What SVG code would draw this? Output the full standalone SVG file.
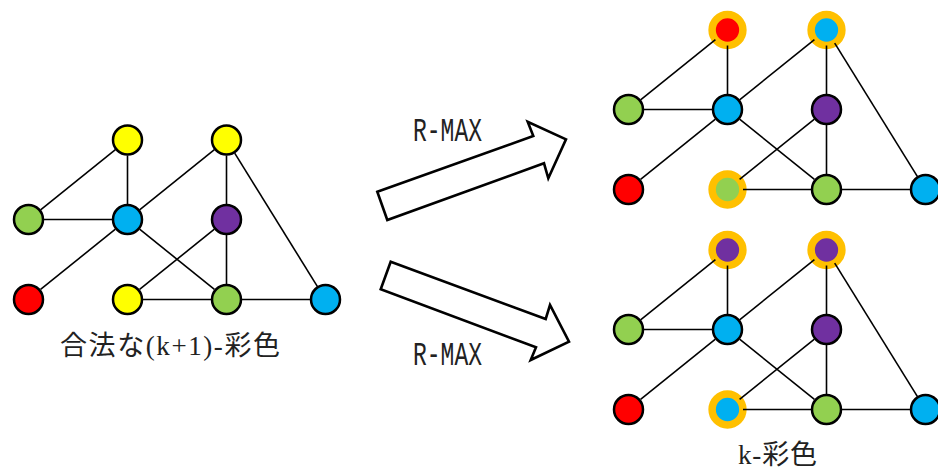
<svg xmlns="http://www.w3.org/2000/svg" width="938" height="469" viewBox="0 0 938 469">
<style>
.e{stroke:#000;stroke-width:1.6;fill:none}
.n{stroke:#000;stroke-width:2.5}
.h{stroke:#FFC000;stroke-width:7.5}
.y{fill:#FFFF00}.g{fill:#92D050}.b{fill:#00B0F0}.p{fill:#7030A0}.r{fill:#FF0000}
.arrow{fill:#fff;stroke:#000;stroke-width:2.6;stroke-linejoin:miter}
.lbl{font-family:"Liberation Serif","Noto Sans CJK JP",serif;font-size:27px;fill:#222}
.rm{font-family:"Liberation Mono",monospace;font-size:33px;fill:#222}
</style>
<rect width="938" height="469" fill="#fff"/>
<g id="arrows">
<polygon class="arrow" points="377.3,191.7 533.3,136 527.7,121.7 566,139.3 548.3,178.3 544,163.3 387.3,220"/>
<polygon class="arrow" points="390.7,261.7 545.7,319 550,305 569,341.7 530.7,360 536,347.3 380.7,289.3"/>
</g>
<g id="L-A"><circle class="n y" cx="127.5" cy="140" r="14.5"/></g>
<g id="L-B"><circle class="n y" cx="226.5" cy="140" r="14.5"/></g>
<g id="L-C"><circle class="n g" cx="28.5" cy="219.5" r="14.5"/></g>
<g id="L-D"><circle class="n b" cx="127.5" cy="219.5" r="14.5"/></g>
<g id="L-E"><circle class="n p" cx="226.5" cy="219.5" r="14.5"/></g>
<g id="L-F"><circle class="n r" cx="28.5" cy="299.5" r="14.5"/></g>
<g id="L-G"><circle class="n y" cx="127.5" cy="299.5" r="14.5"/></g>
<g id="L-H"><circle class="n g" cx="226.5" cy="299.5" r="14.5"/></g>
<g id="L-I"><circle class="n b" cx="325.5" cy="299.5" r="14.5"/></g>
<g id="T-A"><circle class="h r" cx="727.5" cy="30" r="15.4"/></g>
<g id="T-B"><circle class="h b" cx="826.5" cy="30" r="15.4"/></g>
<g id="T-C"><circle class="n g" cx="628.5" cy="109.5" r="14.5"/></g>
<g id="T-D"><circle class="n b" cx="727.5" cy="109.5" r="14.5"/></g>
<g id="T-E"><circle class="n p" cx="826.5" cy="109.5" r="14.5"/></g>
<g id="T-F"><circle class="n r" cx="628.5" cy="189.5" r="14.5"/></g>
<g id="T-G"><circle class="h g" cx="727.5" cy="189.5" r="15.4"/></g>
<g id="T-H"><circle class="n g" cx="826.5" cy="189.5" r="14.5"/></g>
<g id="T-I"><circle class="n b" cx="925.5" cy="189.5" r="14.5"/></g>
<g id="B-A"><circle class="h p" cx="727.5" cy="250" r="15.4"/></g>
<g id="B-B"><circle class="h p" cx="826.5" cy="250" r="15.4"/></g>
<g id="B-C"><circle class="n g" cx="628.5" cy="329.5" r="14.5"/></g>
<g id="B-D"><circle class="n b" cx="727.5" cy="329.5" r="14.5"/></g>
<g id="B-E"><circle class="n p" cx="826.5" cy="329.5" r="14.5"/></g>
<g id="B-F"><circle class="n r" cx="628.5" cy="409.5" r="14.5"/></g>
<g id="B-G"><circle class="h b" cx="727.5" cy="409.5" r="15.4"/></g>
<g id="B-H"><circle class="n g" cx="826.5" cy="409.5" r="14.5"/></g>
<g id="B-I"><circle class="n b" cx="925.5" cy="409.5" r="14.5"/></g>
<g id="connectors">
<g id="edges-left">
<line class="e" x1="115.41" y1="149.71" x2="40.59" y2="209.79"/>
<line class="e" x1="127.5" y1="155.5" x2="127.5" y2="204"/>
<line class="e" x1="214.41" y1="149.71" x2="139.59" y2="209.79"/>
<line class="e" x1="226.5" y1="155.5" x2="226.5" y2="204"/>
<line class="e" x1="234.69" y1="153.16" x2="317.31" y2="286.34"/>
<line class="e" x1="44" y1="219.5" x2="112" y2="219.5"/>
<line class="e" x1="115.41" y1="229.21" x2="40.59" y2="289.29"/>
<line class="e" x1="139.59" y1="229.21" x2="214.41" y2="289.29"/>
<line class="e" x1="214.41" y1="229.21" x2="139.59" y2="289.29"/>
<line class="e" x1="226.5" y1="235" x2="226.5" y2="284"/>
<line class="e" x1="143" y1="299.5" x2="211" y2="299.5"/>
<line class="e" x1="242" y1="299.5" x2="310" y2="299.5"/>
</g>
<g id="edges-top" transform="translate(600,-110)">
<line class="e" x1="115.41" y1="149.71" x2="40.59" y2="209.79"/>
<line class="e" x1="127.5" y1="155.5" x2="127.5" y2="204"/>
<line class="e" x1="214.41" y1="149.71" x2="139.59" y2="209.79"/>
<line class="e" x1="226.5" y1="155.5" x2="226.5" y2="204"/>
<line class="e" x1="234.69" y1="153.16" x2="317.31" y2="286.34"/>
<line class="e" x1="44" y1="219.5" x2="112" y2="219.5"/>
<line class="e" x1="115.41" y1="229.21" x2="40.59" y2="289.29"/>
<line class="e" x1="139.59" y1="229.21" x2="214.41" y2="289.29"/>
<line class="e" x1="214.41" y1="229.21" x2="139.59" y2="289.29"/>
<line class="e" x1="226.5" y1="235" x2="226.5" y2="284"/>
<line class="e" x1="143" y1="299.5" x2="211" y2="299.5"/>
<line class="e" x1="242" y1="299.5" x2="310" y2="299.5"/>
</g>
<g id="edges-bottom" transform="translate(600,110)">
<line class="e" x1="115.41" y1="149.71" x2="40.59" y2="209.79"/>
<line class="e" x1="127.5" y1="155.5" x2="127.5" y2="204"/>
<line class="e" x1="214.41" y1="149.71" x2="139.59" y2="209.79"/>
<line class="e" x1="226.5" y1="155.5" x2="226.5" y2="204"/>
<line class="e" x1="234.69" y1="153.16" x2="317.31" y2="286.34"/>
<line class="e" x1="44" y1="219.5" x2="112" y2="219.5"/>
<line class="e" x1="115.41" y1="229.21" x2="40.59" y2="289.29"/>
<line class="e" x1="139.59" y1="229.21" x2="214.41" y2="289.29"/>
<line class="e" x1="214.41" y1="229.21" x2="139.59" y2="289.29"/>
<line class="e" x1="226.5" y1="235" x2="226.5" y2="284"/>
<line class="e" x1="143" y1="299.5" x2="211" y2="299.5"/>
<line class="e" x1="242" y1="299.5" x2="310" y2="299.5"/>
</g>
</g>
<g id="labels">
<text class="lbl" x="60" y="355" textLength="220" lengthAdjust="spacing">合法な(k+1)-彩色</text>
<text class="lbl" x="738" y="464" textLength="79" lengthAdjust="spacing">k-彩色</text>
<text class="rm" x="413" y="141" textLength="69" lengthAdjust="spacingAndGlyphs">R-MAX</text>
<text class="rm" x="413" y="365" textLength="69" lengthAdjust="spacingAndGlyphs">R-MAX</text>
</g>
</svg>
